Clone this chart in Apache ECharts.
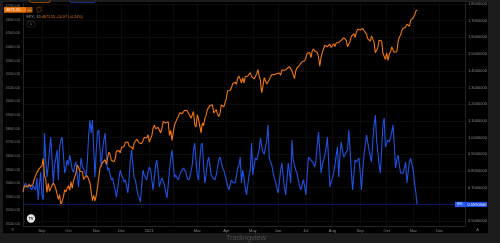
<!DOCTYPE html>
<html><head><meta charset="utf-8">
<script src="https://cdn.jsdelivr.net/npm/echarts@6/dist/echarts.min.js"></script>
<style>html,body{margin:0;padding:0;background:#000;}#c{width:500px;height:243px;}</style>
</head><body><div id="c"></div>
<script>
// ---- data ----
const startDate = '2020-08-11';
const endDate = '2021-12-30';
const holidays = ['2020-09-07','2020-11-26','2020-12-25','2021-01-01','2021-01-18','2021-02-15','2021-04-02','2021-05-31','2021-07-05','2021-09-06','2021-11-25','2021-12-24'];
const monthNames = ['Jan','Feb','Mar','Apr','May','Jun','Jul','Aug','Sep','Oct','Nov','Dec'];
const shownMonths = ['2020-09','2020-10','2020-11','2020-12','2021-01','2021-03','2021-04','2021-05','2021-06','2021-07','2021-08','2021-09','2021-10','2021-11','2021-12'];
const leftTicks = [3100,3200,3300,3400,3500,3600,3700,3800,3900,4000,4100,4200,4300,4400,4500,4600,4700];
const rightTicks = [0.5,0.6,0.7,0.8,0.9,1.0,1.1,1.2,1.3,1.4,1.5,1.6,1.7,1.8];
const legendTitle = 'SPX, 1D';
const legendValue = '4671.55 +10.97 (+0.24%)';
const ratioTicker = 'BKL';

// SPX daily closes, 2020-08-11 .. 2021-11-04
const spx = [
3333.7,3380.4,3373.4,3372.9,3382.0,3389.8,3374.9,3385.5,3397.2,3431.3,3443.6,3478.7,3484.6,3508.0,3500.3,
3526.7,3580.8,3455.1,3427.0,3331.8,3399.0,3339.2,3341.0,3383.5,3401.2,3385.5,3357.0,3319.5,3281.1,3315.6,3236.9,3246.6,3298.5,3351.6,3335.5,3363.0,
3380.8,3348.4,3408.6,3361.0,3419.4,3446.8,3477.1,3534.2,3511.9,3488.7,3483.3,3483.8,3426.9,3443.1,3435.6,3453.5,3465.4,3401.0,3390.7,3271.0,3310.1,3270.0,
3310.2,3369.2,3443.4,3510.5,3509.4,3550.5,3545.5,3572.7,3537.0,3585.2,3626.9,3609.5,3567.8,3581.9,3557.5,3577.6,3635.4,3629.7,3638.4,3621.6,
3662.5,3669.0,3666.7,3699.1,3692.0,3702.3,3672.8,3668.1,3663.5,3647.5,3694.6,3701.2,3722.5,3709.4,3694.9,3687.3,3690.0,3703.1,3735.4,3727.0,3732.0,3756.1,
3700.7,3726.9,3748.1,3803.8,3824.7,3799.6,3801.2,3809.8,3795.5,3768.3,3798.9,3851.9,3853.1,3841.5,3855.4,3849.6,3750.8,3787.4,3714.2,
3773.9,3826.3,3830.2,3871.7,3886.8,3915.6,3911.2,3909.9,3916.4,3934.8,3932.6,3931.3,3914.0,3906.7,3876.5,3881.4,3925.4,3829.3,3811.2,
3901.8,3870.3,3819.7,3768.5,3841.9,3821.4,3875.4,3898.8,3939.3,3943.3,3968.9,3962.7,3974.1,3915.5,3913.1,3940.6,3910.5,3889.1,3909.5,3974.5,3971.1,3959.0,3972.9,
4019.9,4077.9,4073.9,4080.0,4097.2,4128.8,4128.0,4141.6,4124.7,4170.4,4185.5,4163.3,4134.9,4173.4,4135.0,4180.2,4187.6,4186.7,4183.2,4211.5,4181.2,
4192.7,4164.7,4167.6,4201.6,4232.6,4188.4,4152.1,4063.0,4112.5,4173.9,4163.3,4127.8,4115.7,4159.1,4155.9,4197.1,4188.1,4196.0,4200.9,4204.1,
4202.0,4208.1,4192.9,4229.9,4226.5,4227.3,4219.6,4239.2,4247.4,4255.2,4246.6,4223.7,4221.9,4166.5,4224.8,4246.4,4241.8,4266.5,4280.7,4290.6,4291.8,4297.5,
4319.9,4352.3,4343.5,4358.1,4320.8,4369.6,4384.6,4369.2,4374.3,4360.0,4327.2,4258.5,4323.1,4358.7,4367.5,4411.8,4422.3,4401.5,4400.6,4419.2,4395.3,
4387.2,4423.2,4402.7,4429.1,4436.5,4432.4,4436.8,4447.7,4460.8,4468.0,4479.7,4448.1,4400.3,4405.8,4441.7,4479.5,4486.2,4496.2,4470.0,4509.4,4528.8,4522.7,
4524.1,4537.0,4535.4,4520.0,4514.1,4493.3,4458.6,4468.7,4443.1,4480.7,4473.8,4433.0,4357.7,4354.2,4395.6,4449.0,4455.5,4443.1,4352.6,4359.5,4307.5,
4357.0,4300.5,4345.7,4363.6,4399.8,4391.3,4361.2,4350.7,4363.8,4438.3,4471.4,4486.5,4519.6,4536.2,4549.8,4544.9,4566.5,4574.8,4551.7,4596.4,4605.4,
4613.7,4630.7,4660.6,4671.55
];

// ratio series (right scale), same trading days
const ratio = [
0.686,0.710,0.728,0.710,0.698,0.722,0.698,0.686,0.716,0.698,0.686,0.758,0.626,0.716,0.793,0.656,0.626,1.027,0.865,0.763,
0.835,0.925,1.003,0.865,0.728,0.835,0.877,0.925,0.746,0.943,0.985,1.003,0.895,0.787,0.817,0.865,0.835,0.895,0.853,0.805,
0.793,0.835,0.853,0.775,0.704,0.805,0.877,0.829,0.823,0.793,0.763,0.865,1.015,1.105,1.027,1.105,0.925,0.763,0.925,1.033,
1.045,0.925,0.823,0.925,0.985,1.027,0.895,0.805,0.817,0.775,0.746,0.758,0.716,0.686,0.644,0.698,0.758,0.805,0.775,0.758,
0.734,0.746,0.710,0.668,0.746,0.865,0.925,0.835,0.758,0.746,0.698,0.656,0.638,0.614,0.716,0.805,0.775,0.758,0.746,0.793,
0.823,0.805,0.746,0.686,0.758,0.835,0.865,0.793,0.704,0.734,0.758,0.763,0.716,0.674,0.638,0.716,0.805,0.877,0.925,0.835,
0.763,0.775,0.758,0.746,0.775,0.793,0.805,0.817,0.823,0.793,0.758,0.746,0.758,0.763,0.835,0.925,0.967,0.865,0.775,0.746,
0.865,0.955,0.967,0.835,0.728,0.775,0.853,0.883,0.835,0.775,0.763,0.758,0.746,0.775,0.817,0.865,0.883,0.853,0.817,0.805,
0.775,0.746,0.710,0.686,0.716,0.746,0.734,0.728,0.728,0.769,0.817,0.835,0.883,0.728,0.805,0.758,0.698,0.656,0.716,0.775,
0.805,0.967,0.775,0.835,0.877,0.865,0.865,0.925,0.997,0.949,0.913,0.901,0.895,0.985,1.075,0.877,0.853,0.835,0.793,0.758,
0.734,0.698,0.668,0.734,0.805,0.847,0.775,0.698,0.656,0.746,0.847,0.793,0.728,0.985,0.865,0.835,0.805,0.787,0.746,0.710,
0.686,0.716,0.746,0.710,0.656,0.775,0.883,0.877,0.865,0.865,0.847,0.823,0.865,0.955,1.033,0.925,0.787,0.835,0.865,0.895,
0.937,1.003,0.865,0.704,0.734,0.758,0.787,0.835,0.895,0.943,0.763,0.895,0.973,0.925,0.883,0.895,0.913,0.925,1.045,0.925,
0.793,0.686,0.775,0.865,0.853,0.865,0.877,0.793,0.686,0.805,0.895,0.955,1.015,0.973,0.925,0.889,0.853,0.985,1.075,1.135,
0.985,0.907,0.835,0.787,0.925,1.075,1.117,0.943,0.967,0.985,0.973,0.997,1.033,1.075,0.955,0.817,0.865,0.895,0.835,0.787,
0.793,0.787,0.817,0.853,0.728,0.793,0.853,0.877,0.883,0.805,0.728,0.674,0.599
];

// ---- trading-day categories ----
const dates = [];
(function () {
  const hol = new Set(holidays);
  let d = new Date(startDate + 'T00:00:00Z');
  const end = new Date(endDate + 'T00:00:00Z');
  while (d <= end) {
    const wd = d.getUTCDay();
    const s = d.toISOString().slice(0, 10);
    if (wd !== 0 && wd !== 6 && !hol.has(s)) dates.push(s);
    d = new Date(d.getTime() + 86400000);
  }
})();
const monthStart = dates.map((s, i) => i > 0 && s.slice(0, 7) !== dates[i - 1].slice(0, 7));

const FONT = 'Liberation Sans';
const ORANGE = '#f0760f';
const BLUE = '#1f52e0';
const GRID = '#0c0c0c';
const AXIS = '#242424';

const chart = echarts.init(document.getElementById('c'), null, { renderer: 'canvas' });
chart.setOption({
  animation: false,
  backgroundColor: '#000',
  grid: { left: 23, right: 35, top: 3, bottom: 17 },
  xAxis: {
    type: 'category', data: dates, boundaryGap: false,
    axisLine: { show: true, lineStyle: { color: AXIS, width: 1 } },
    axisTick: { show: false },
    axisLabel: {
      interval: (i) => monthStart[i] && shownMonths.includes(dates[i].slice(0, 7)),
      formatter: (v) => { const m = +v.slice(5, 7); return m === 1 ? v.slice(0, 4) : monthNames[m - 1]; },
      color: '#8a8a8a', fontSize: 4, fontFamily: FONT, margin: 2.5
    },
    splitLine: { show: true, interval: (i) => monthStart[i], lineStyle: { color: GRID, width: 1 } }
  },
  yAxis: [
    {
      type: 'value', position: 'left', min: 3085.3, max: 4722, scale: true,
      axisLine: { show: true, lineStyle: { color: AXIS } },
      axisTick: { show: false, customValues: leftTicks },
      axisLabel: { customValues: leftTicks, formatter: (v) => v.toFixed(2), color: '#7f7f7f', fontSize: 4, fontFamily: FONT, margin: 3 },
      splitLine: { show: false }
    },
    {
      type: 'value', position: 'right', min: 0.470, max: 1.806, scale: true,
      axisLine: { show: true, lineStyle: { color: AXIS } },
      axisTick: { show: false, customValues: rightTicks },
      axisLabel: { customValues: rightTicks, formatter: (v) => v.toFixed(7), color: '#8a8a8a', fontSize: 4, fontFamily: FONT, margin: 3 },
      splitLine: { show: true, lineStyle: { color: GRID, width: 1 } }
    }
  ],
  series: [
    {
      type: 'line', name: 'ratio', yAxisIndex: 1, data: ratio, showSymbol: false, z: 3,
      lineStyle: { color: BLUE, width: 1.1 },
      markLine: {
        silent: true, symbol: 'none', label: { show: false },
        lineStyle: { color: '#0b1b55', width: 1, type: 'solid' },
        data: [{ yAxis: ratio[ratio.length - 1] }]
      }
    },
    {
      type: 'line', name: 'SPX', yAxisIndex: 0, data: spx, showSymbol: false, z: 4,
      lineStyle: { color: ORANGE, width: 1.1 }
    }
  ]
});

// ---- decorations (frame, tags, legend) ----
const ySpx = chart.convertToPixel({ yAxisIndex: 0 }, spx[spx.length - 1]);
const yRat = chart.convertToPixel({ yAxisIndex: 1 }, ratio[ratio.length - 1]);
const FR = '#1c1c1c';
chart.setOption({
  graphic: [
    { type: 'rect', shape: { x: 0, y: 0, width: 3, height: 243 }, style: { fill: FR }, z: 100 },
    { type: 'rect', shape: { x: 0, y: 0, width: 500, height: 2 }, style: { fill: FR }, z: 100 },
    { type: 'rect', shape: { x: 488, y: 0, width: 12, height: 243 }, style: { fill: FR }, z: 100 },
    { type: 'rect', shape: { x: 0, y: 233, width: 500, height: 10 }, style: { fill: FR }, z: 100 },
    { type: 'rect', shape: { x: 30, y: -2, width: 20, height: 4.5, r: 1 }, style: { fill: 'none', stroke: '#a8550c', lineWidth: 0.8 }, z: 101 },
    { type: 'rect', shape: { x: 70, y: -2, width: 25, height: 4.5, r: 1 }, style: { fill: 'none', stroke: '#1d3f9e', lineWidth: 0.8 }, z: 101 },
    { type: 'rect', shape: { x: 4, y: ySpx - 2.8, width: 22.5, height: 5.6 }, style: { fill: ORANGE }, z: 101 },
    { type: 'text', x: 6, y: ySpx, style: { text: '4671.55', fill: '#fff', fontSize: 4, fontFamily: FONT, verticalAlign: 'middle' }, z: 102 },
    { type: 'rect', shape: { x: 26.5, y: ySpx - 2.8, width: 6, height: 5.6 }, style: { fill: '#b85a0a' }, z: 101 },
    { type: 'text', x: 29.5, y: ySpx, style: { text: 'SPX', fill: '#ffd9b8', fontSize: 2.5, fontFamily: FONT, align: 'center', verticalAlign: 'middle' }, z: 102 },
    { type: 'rect', shape: { x: 37, y: 7, width: 4, height: 5, r: 0.5 }, style: { fill: 'none', stroke: '#8a4a10', lineWidth: 0.6 }, z: 101 },
    { type: 'text', x: 39, y: 9.5, style: { text: '!', fill: ORANGE, fontSize: 3.5, fontFamily: FONT, align: 'center', verticalAlign: 'middle' }, z: 102 },
    { type: 'text', x: 26, y: 16.7, style: { text: legendTitle, fill: '#9a9a9a', fontSize: 4, fontFamily: FONT, verticalAlign: 'middle' }, z: 101 },
    { type: 'text', x: 42, y: 16.7, style: { text: legendValue, fill: ORANGE, fontSize: 3.6, fontFamily: FONT, verticalAlign: 'middle' }, z: 101 },
    { type: 'rect', shape: { x: 27, y: 21.5, width: 8, height: 5.5, r: 0.8 }, style: { fill: '#000', stroke: '#333', lineWidth: 0.6 }, z: 101 },
    { type: 'text', x: 31, y: 24.5, style: { text: '^', fill: '#aaa', fontSize: 4, fontFamily: FONT, align: 'center', verticalAlign: 'middle' }, z: 102 },
    { type: 'rect', shape: { x: 455, y: yRat - 2.6, width: 32, height: 5.2 }, style: { fill: '#1848e6' }, z: 101 },
    { type: 'rect', shape: { x: 455, y: yRat - 2.6, width: 10, height: 5.2 }, style: { fill: '#2a5cf0' }, z: 101 },
    { type: 'text', x: 460, y: yRat, style: { text: ratioTicker, fill: '#dfe6ff', fontSize: 3, fontFamily: FONT, align: 'center', verticalAlign: 'middle' }, z: 102 },
    { type: 'text', x: 467.5, y: yRat, style: { text: ratio[ratio.length - 1].toFixed(7), fill: '#fff', fontSize: 4, fontFamily: FONT, verticalAlign: 'middle' }, z: 102 },
    { type: 'circle', shape: { cx: 31, cy: 218.5, r: 4.2 }, style: { fill: '#e6e6e6' }, z: 101 },
    { type: 'text', x: 31, y: 218.7, style: { text: 'TV', fill: '#111', fontSize: 3.6, fontWeight: 'bold', fontFamily: FONT, align: 'center', verticalAlign: 'middle' }, z: 102 },
    { type: 'text', x: 12.5, y: 229.7, style: { text: '8', fill: '#777', fontSize: 4, fontFamily: FONT, align: 'center', verticalAlign: 'middle' }, z: 101 },
    { type: 'text', x: 477.5, y: 229.7, style: { text: 'A', fill: '#777', fontSize: 4, fontFamily: FONT, align: 'center', verticalAlign: 'middle' }, z: 101 },
    { type: 'text', x: 246, y: 238.3, style: { text: 'Tradingview', fill: '#4e4e4e', fontSize: 7.6, fontFamily: FONT, align: 'center', verticalAlign: 'middle' }, z: 101 }
  ]
});
</script>
</body></html>
